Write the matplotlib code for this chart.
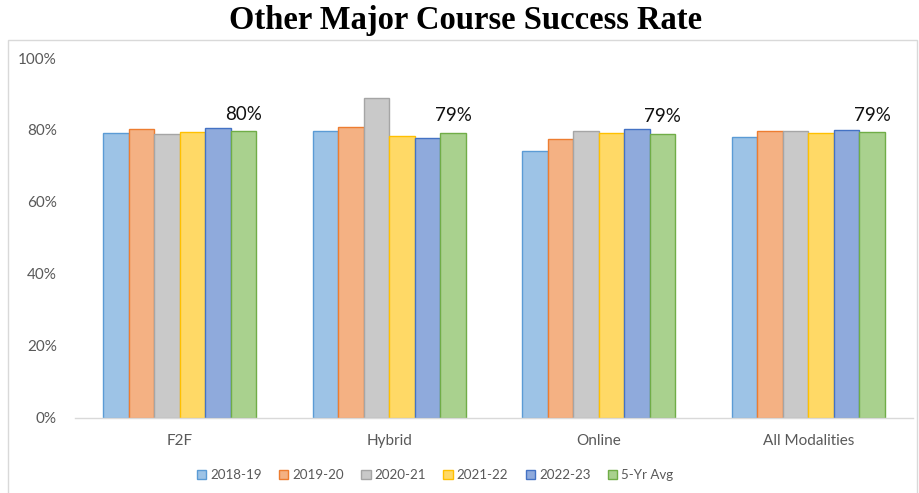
import matplotlib
matplotlib.use("Agg")
import matplotlib.pyplot as plt
import numpy as np
from matplotlib.patches import Rectangle

categories = ["F2F", "Hybrid", "Online", "All Modalities"]
series_names = ["2018-19", "2019-20", "2020-21", "2021-22", "2022-23", "5-Yr Avg"]
v_2018 = [79.1, 79.6, 74.1, 78.0]
v_2019 = [80.3, 80.7, 77.4, 79.7]
v_2020 = [78.8, 88.9, 79.8, 79.7]
v_2021 = [79.4, 78.3, 79.1, 79.1]
v_2022 = [80.6, 77.7, 80.3, 79.9]
v_avg = [79.7, 79.2, 79.0, 79.3]
avg_labels = ["80%", "79%", "79%", "79%"]
yticks = [0, 20, 40, 60, 80, 100]

series = [v_2018, v_2019, v_2020, v_2021, v_2022, v_avg]
fills = ["#9DC3E6", "#F4B183", "#C9C9C9", "#FFD966", "#8FAADC", "#A9D18E"]
edges = ["#5B9BD5", "#ED7D31", "#A5A5A5", "#FFC000", "#4472C4", "#70AD47"]

plt.rcParams['font.family'] = ['Lato', 'DejaVu Sans']

fig = plt.figure(figsize=(9.19, 4.93), dpi=100)
fig.patches.append(Rectangle((8/919, -0.01), (917-8)/919, (493-40)/493 + 0.01,
                             transform=fig.transFigure, fill=False,
                             edgecolor="#D9D9D9", linewidth=1.0))
ax = fig.add_axes([75/919, 1-417.7/493, (913-75)/919, (417.7-58)/493])

x = np.arange(len(categories))
bw = 0.122
n = len(series)
for i, (vals, fc, ec, name) in enumerate(zip(series, fills, edges, series_names)):
    pos = x + (i - (n-1)/2) * bw
    bars = ax.bar(pos, vals, width=bw, color=fc, edgecolor=ec, linewidth=1.0, label=name)
    if i == n-1:
        for b, lab in zip(bars, avg_labels):
            ax.annotate(lab, (b.get_x() + b.get_width()/2, b.get_height()),
                        xytext=(0, 6), textcoords="offset points",
                        ha="center", va="bottom", fontsize=13.5, color="#111111")

ax.set_xlim(-0.5, len(categories) - 0.5)
ax.set_ylim(0, 100)
ax.set_yticks(yticks)
ax.set_yticklabels([f"{t}%" for t in yticks], fontsize=11, color="#595959")
ax.set_xticks(x)
ax.set_xticklabels(categories, fontsize=11, color="#595959")
ax.tick_params(axis="both", length=0)
ax.tick_params(axis="y", pad=13)
ax.tick_params(axis="x", pad=12)
for s in ["top", "right", "left"]:
    ax.spines[s].set_visible(False)
ax.spines["bottom"].set_color("#D9D9D9")
ax.spines["bottom"].set_linewidth(1.0)

fig.text(466/919, 1-21/493, "Other Major Course Success Rate", ha="center", va="center",
         fontsize=23.5, fontweight="bold", family="Liberation Serif")

handles, labels = ax.get_legend_handles_labels()
fig.legend(handles, labels, loc="center", bbox_to_anchor=(435/919, 1-475/493), ncol=6,
           frameon=False, fontsize=9.6, handlelength=0.7, handleheight=0.7,
           handletextpad=0.3, columnspacing=1.3, labelcolor="#595959")

fig.savefig("out.png", dpi=100)
